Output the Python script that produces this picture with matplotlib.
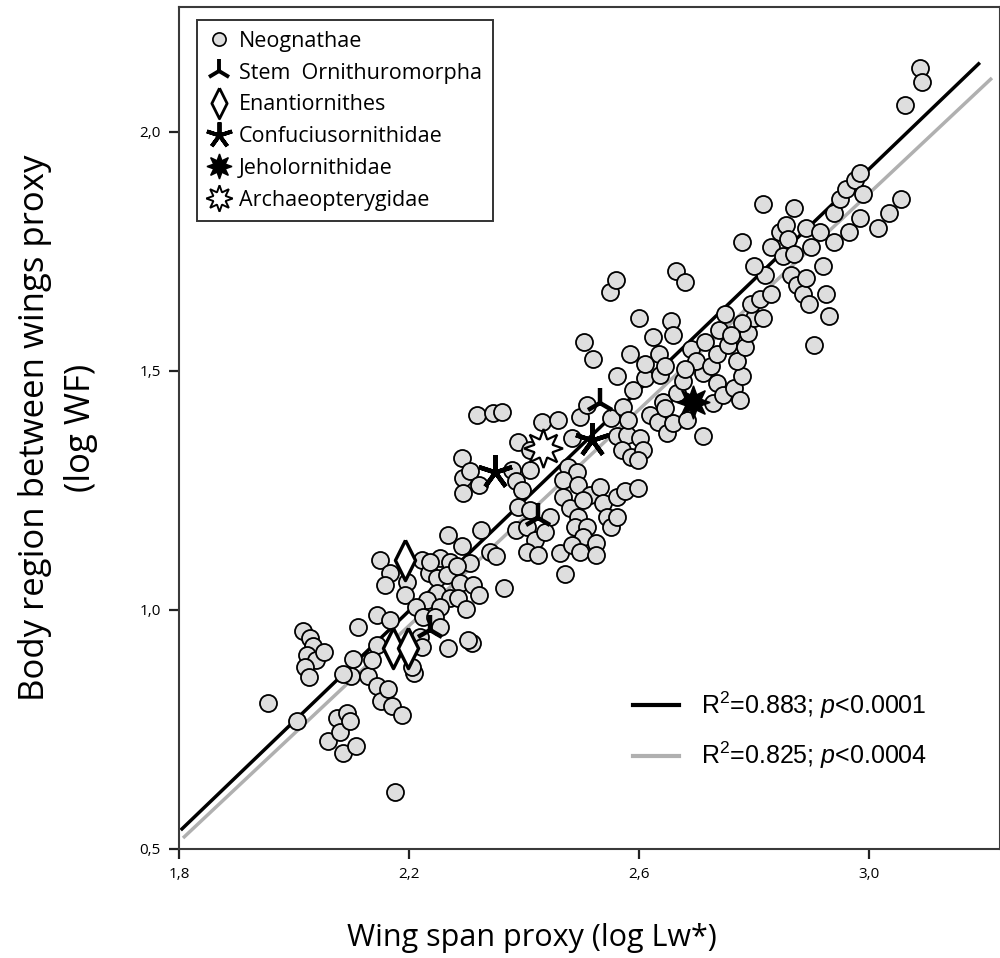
import numpy as np
import matplotlib
matplotlib.use("Agg")
import matplotlib.pyplot as plt
from matplotlib.lines import Line2D

plt.rcParams['font.family'] = ['Open Sans', 'DejaVu Sans']
plt.rcParams['mathtext.fontset'] = 'custom'
plt.rcParams['mathtext.rm'] = 'Liberation Sans'
plt.rcParams['mathtext.it'] = 'Liberation Sans:italic'

# Neognathae: (log Lw*, log WF)
neo_pts = [
    # lower left tail
    (1.955, 0.805), (2.005, 0.768), (2.015, 0.955), (2.027, 0.942), (2.033, 0.925), (2.022, 0.905),
    (2.038, 0.895), (2.052, 0.912), (2.020, 0.880), (2.026, 0.860), (2.060, 0.725), (2.075, 0.775),
    (2.080, 0.745), (2.086, 0.700), (2.092, 0.785), (2.097, 0.768), (2.108, 0.715), (2.100, 0.862),
    (2.102, 0.898), (2.112, 0.965), (2.085, 0.866), (2.128, 0.862), (2.145, 0.840), (2.152, 0.810),
    (2.163, 0.835), (2.170, 0.800), (2.175, 0.620), (2.188, 0.780), (2.208, 0.868), (2.310, 0.930),
    # around the Enantiornithes
    (2.268, 1.157), (2.326, 1.167), (2.150, 1.105), (2.167, 1.077), (2.158, 1.052), (2.196, 1.059),
    (2.193, 1.031), (2.222, 1.105), (2.234, 1.077), (2.254, 1.108), (2.271, 1.101), (2.292, 1.133),
    (2.306, 1.098), (2.248, 1.066), (2.266, 1.073), (2.289, 1.056), (2.312, 1.052), (2.321, 1.031),
    (2.248, 1.035), (2.231, 1.021), (2.271, 1.024), (2.286, 1.024), (2.300, 1.003), (2.144, 0.990),
    (2.167, 0.979), (2.213, 1.007), (2.254, 1.007), (2.225, 0.986), (2.245, 0.986), (2.254, 0.965),
    (2.219, 0.944), (2.222, 0.923), (2.268, 0.920), (2.303, 0.937), (2.144, 0.927), (2.135, 0.895),
    (2.205, 0.881),
    # central band
    (2.561, 1.490), (2.590, 1.460), (2.610, 1.485), (2.637, 1.492), (2.642, 1.436), (2.666, 1.453),
    (2.677, 1.478), (2.712, 1.495), (2.735, 1.474), (2.729, 1.432), (2.747, 1.450), (2.712, 1.363),
    (2.318, 1.408), (2.347, 1.411), (2.361, 1.415), (2.431, 1.394), (2.460, 1.397), (2.497, 1.404),
    (2.509, 1.429), (2.390, 1.352), (2.410, 1.335), (2.483, 1.359), (2.552, 1.401), (2.573, 1.425),
    (2.561, 1.363), (2.579, 1.366), (2.602, 1.359), (2.570, 1.335), (2.587, 1.321), (2.619, 1.408),
    (2.634, 1.394), (2.648, 1.370), (2.660, 1.391), (2.645, 1.422), (2.683, 1.397), (2.581, 1.397),
    (2.607, 1.335), (2.599, 1.314), (2.292, 1.317), (2.294, 1.276), (2.306, 1.290), (2.321, 1.262),
    (2.294, 1.244), (2.379, 1.293), (2.387, 1.269), (2.410, 1.293), (2.396, 1.251), (2.477, 1.300),
    (2.492, 1.289), (2.468, 1.272), (2.494, 1.262), (2.515, 1.241), (2.532, 1.258), (2.538, 1.223),
    (2.561, 1.237), (2.576, 1.248), (2.599, 1.255), (2.390, 1.216), (2.410, 1.209), (2.445, 1.195),
    (2.468, 1.237), (2.480, 1.213), (2.494, 1.195), (2.503, 1.230), (2.489, 1.174), (2.509, 1.174),
    (2.503, 1.153), (2.526, 1.140), (2.544, 1.195), (2.552, 1.174), (2.561, 1.195), (2.387, 1.167),
    (2.405, 1.174), (2.419, 1.146), (2.405, 1.122), (2.425, 1.115), (2.437, 1.164), (2.463, 1.119),
    (2.483, 1.136), (2.497, 1.122), (2.526, 1.115), (2.341, 1.122), (2.352, 1.112), (2.237, 1.101),
    (2.283, 1.091), (2.365, 1.045), (2.472, 1.075),
    # above the band
    (2.505, 1.560), (2.520, 1.525), (2.550, 1.665), (2.560, 1.690), (2.585, 1.535), (2.600, 1.610),
    (2.625, 1.570), (2.635, 1.535), (2.645, 1.510), (2.655, 1.605), (2.660, 1.575), (2.665, 1.710),
    (2.680, 1.685), (2.690, 1.545), (2.700, 1.520), (2.715, 1.560), (2.725, 1.510), (2.740, 1.585),
    (2.750, 1.620), (2.735, 1.535), (2.755, 1.555), (2.680, 1.505), (2.610, 1.515),
    # upper right
    (2.765, 1.465), (2.780, 1.490), (2.775, 1.440), (2.770, 1.520), (2.785, 1.550), (2.790, 1.580),
    (2.800, 1.610), (2.780, 1.600), (2.760, 1.575), (2.795, 1.640), (2.810, 1.650), (2.820, 1.700),
    (2.800, 1.720), (2.815, 1.610), (2.830, 1.660), (2.780, 1.770), (2.815, 1.850), (2.830, 1.760),
    (2.845, 1.790), (2.855, 1.805), (2.860, 1.775), (2.850, 1.740), (2.865, 1.700), (2.875, 1.680),
    (2.885, 1.660), (2.890, 1.695), (2.895, 1.640), (2.905, 1.555), (2.930, 1.615), (2.925, 1.660),
    (2.870, 1.840), (2.890, 1.800), (2.915, 1.790), (2.940, 1.830), (2.950, 1.860), (2.960, 1.880),
    (2.975, 1.900), (2.985, 1.915), (2.990, 1.870), (2.965, 1.790), (2.985, 1.820), (3.015, 1.800),
    (3.035, 1.830), (3.055, 1.860), (3.063, 2.057), (3.089, 2.134), (3.092, 2.105), (2.920, 1.720),
    (2.940, 1.770), (2.900, 1.760), (2.870, 1.745),
]
neo_x = [p[0] for p in neo_pts]
neo_y = [p[1] for p in neo_pts]

# fossil groups
stem_x = [2.532, 2.424, 2.237]
stem_y = [1.433, 1.192, 0.958]
enant_x = [2.193, 2.173, 2.199]
enant_y = [1.105, 0.920, 0.920]
conf_x = [2.350, 2.518]
conf_y = [1.289, 1.356]
jehol_x = [2.694]
jehol_y = [1.435]
archaeo_x = [2.433]
archaeo_y = [1.339]

# regressions: slope, intercept, x range
fit_all = (1.155, -1.543, 1.803, 3.193)
fit_neo = (1.130, -1.519, 1.807, 3.214)
fit_labels = [r'R$^2$=0.883; $\mathit{p}$<0.0001', r'R$^2$=0.825; $\mathit{p}$<0.0004']

group_names = ['Neognathae', 'Stem  Ornithuromorpha', 'Enantiornithes', 'Confuciusornithidae',
               'Jeholornithidae', 'Archaeopterygidae']

xticks = [1.8, 2.2, 2.6, 3.0]
yticks = [0.5, 1.0, 1.5, 2.0]

thin_diamond = [(0, 1), (0.5, 0), (0, -1), (-0.5, 0), (0, 1)]

fig = plt.figure(figsize=(10, 9.58), dpi=100)
ax = fig.add_axes([0.179, 0.1138, 0.821, 0.879])

for fit, col in [(fit_neo, '#b0b0b0'), (fit_all, 'black')]:
    xs = np.array([fit[2], fit[3]])
    ax.plot(xs, fit[0] * xs + fit[1], color=col, lw=2.5, zorder=2, solid_capstyle='butt')

ax.scatter(neo_x, neo_y, s=150, facecolor='#dedede', edgecolor='black', linewidth=1.3, zorder=3)

ax.plot(stem_x, stem_y, ls='none', marker='2', ms=21, mew=3.2, color='black', zorder=4)
ax.plot(enant_x, enant_y, ls='none', marker=thin_diamond, ms=29, mew=2.4, mfc='white', mec='black', zorder=4)
ax.plot(conf_x, conf_y, ls='none', marker=(5, 2, 0), ms=25, mew=3.2, color='black', zorder=4)
ax.plot(jehol_x, jehol_y, ls='none', marker=(8, 1, 0), ms=24, mfc='black', mec='black', zorder=4)
ax.plot(archaeo_x, archaeo_y, ls='none', marker=(8, 1, 0), ms=28, mew=1.6, mfc='white', mec='black', zorder=4)

ax.set_xlim(1.8, 3.228)
ax.set_ylim(0.5, 2.2615)
ax.set_xticks(xticks)
ax.set_yticks(yticks)
ax.set_xticklabels([f'{t:.1f}'.replace('.', ',') for t in xticks])
ax.set_yticklabels([f'{t:.1f}'.replace('.', ',') for t in yticks])
ax.tick_params(direction='out', length=7, width=1.6, labelsize=11, pad=6, color='#222222')
for sp in ax.spines.values():
    sp.set_color('#3a3a3a')
    sp.set_linewidth(1.5)

handles = [
    Line2D([], [], ls='none', marker='o', ms=9.5, mfc='#dedede', mec='black', mew=1.2),
    Line2D([], [], ls='none', marker='2', ms=18, mew=2.8, color='black'),
    Line2D([], [], ls='none', marker=thin_diamond, ms=22, mew=2, mfc='white', mec='black'),
    Line2D([], [], ls='none', marker=(5, 2, 0), ms=19, mew=2.8, color='black'),
    Line2D([], [], ls='none', marker=(8, 1, 0), ms=18, color='black'),
    Line2D([], [], ls='none', marker=(8, 1, 0), ms=19, mew=1.4, mfc='white', mec='black'),
]
leg1 = ax.legend(handles, group_names, loc='upper left', bbox_to_anchor=(0.197, 0.979),
                 bbox_transform=fig.transFigure, fontsize=15.5, frameon=True, fancybox=False,
                 edgecolor='black', handlelength=1.0, handletextpad=0.45, labelspacing=0.5,
                 borderpad=0.5, borderaxespad=0)
leg1.get_frame().set_linewidth(1.4)
ax.add_artist(leg1)

line_handles = [Line2D([], [], color='black', lw=3), Line2D([], [], color='#b0b0b0', lw=3)]
leg2 = ax.legend(line_handles, fit_labels, loc='upper left', bbox_to_anchor=(0.6226, 0.2905),
                 bbox_transform=fig.transFigure, frameon=False, handlelength=1.85,
                 handletextpad=0.88, labelspacing=0.75, borderaxespad=0,
                 prop={'family': 'Liberation Sans', 'size': 18})

fig.text(0.035, 0.553, 'Body region between wings proxy', rotation=90, ha='center', va='center', fontsize=25)
fig.text(0.081, 0.553, '(log WF)', rotation=90, ha='center', va='center', fontsize=25)
fig.text(0.532, 0.021, 'Wing span proxy (log Lw*)', ha='center', va='center', fontsize=22)

fig.savefig('out.png', dpi=100)
